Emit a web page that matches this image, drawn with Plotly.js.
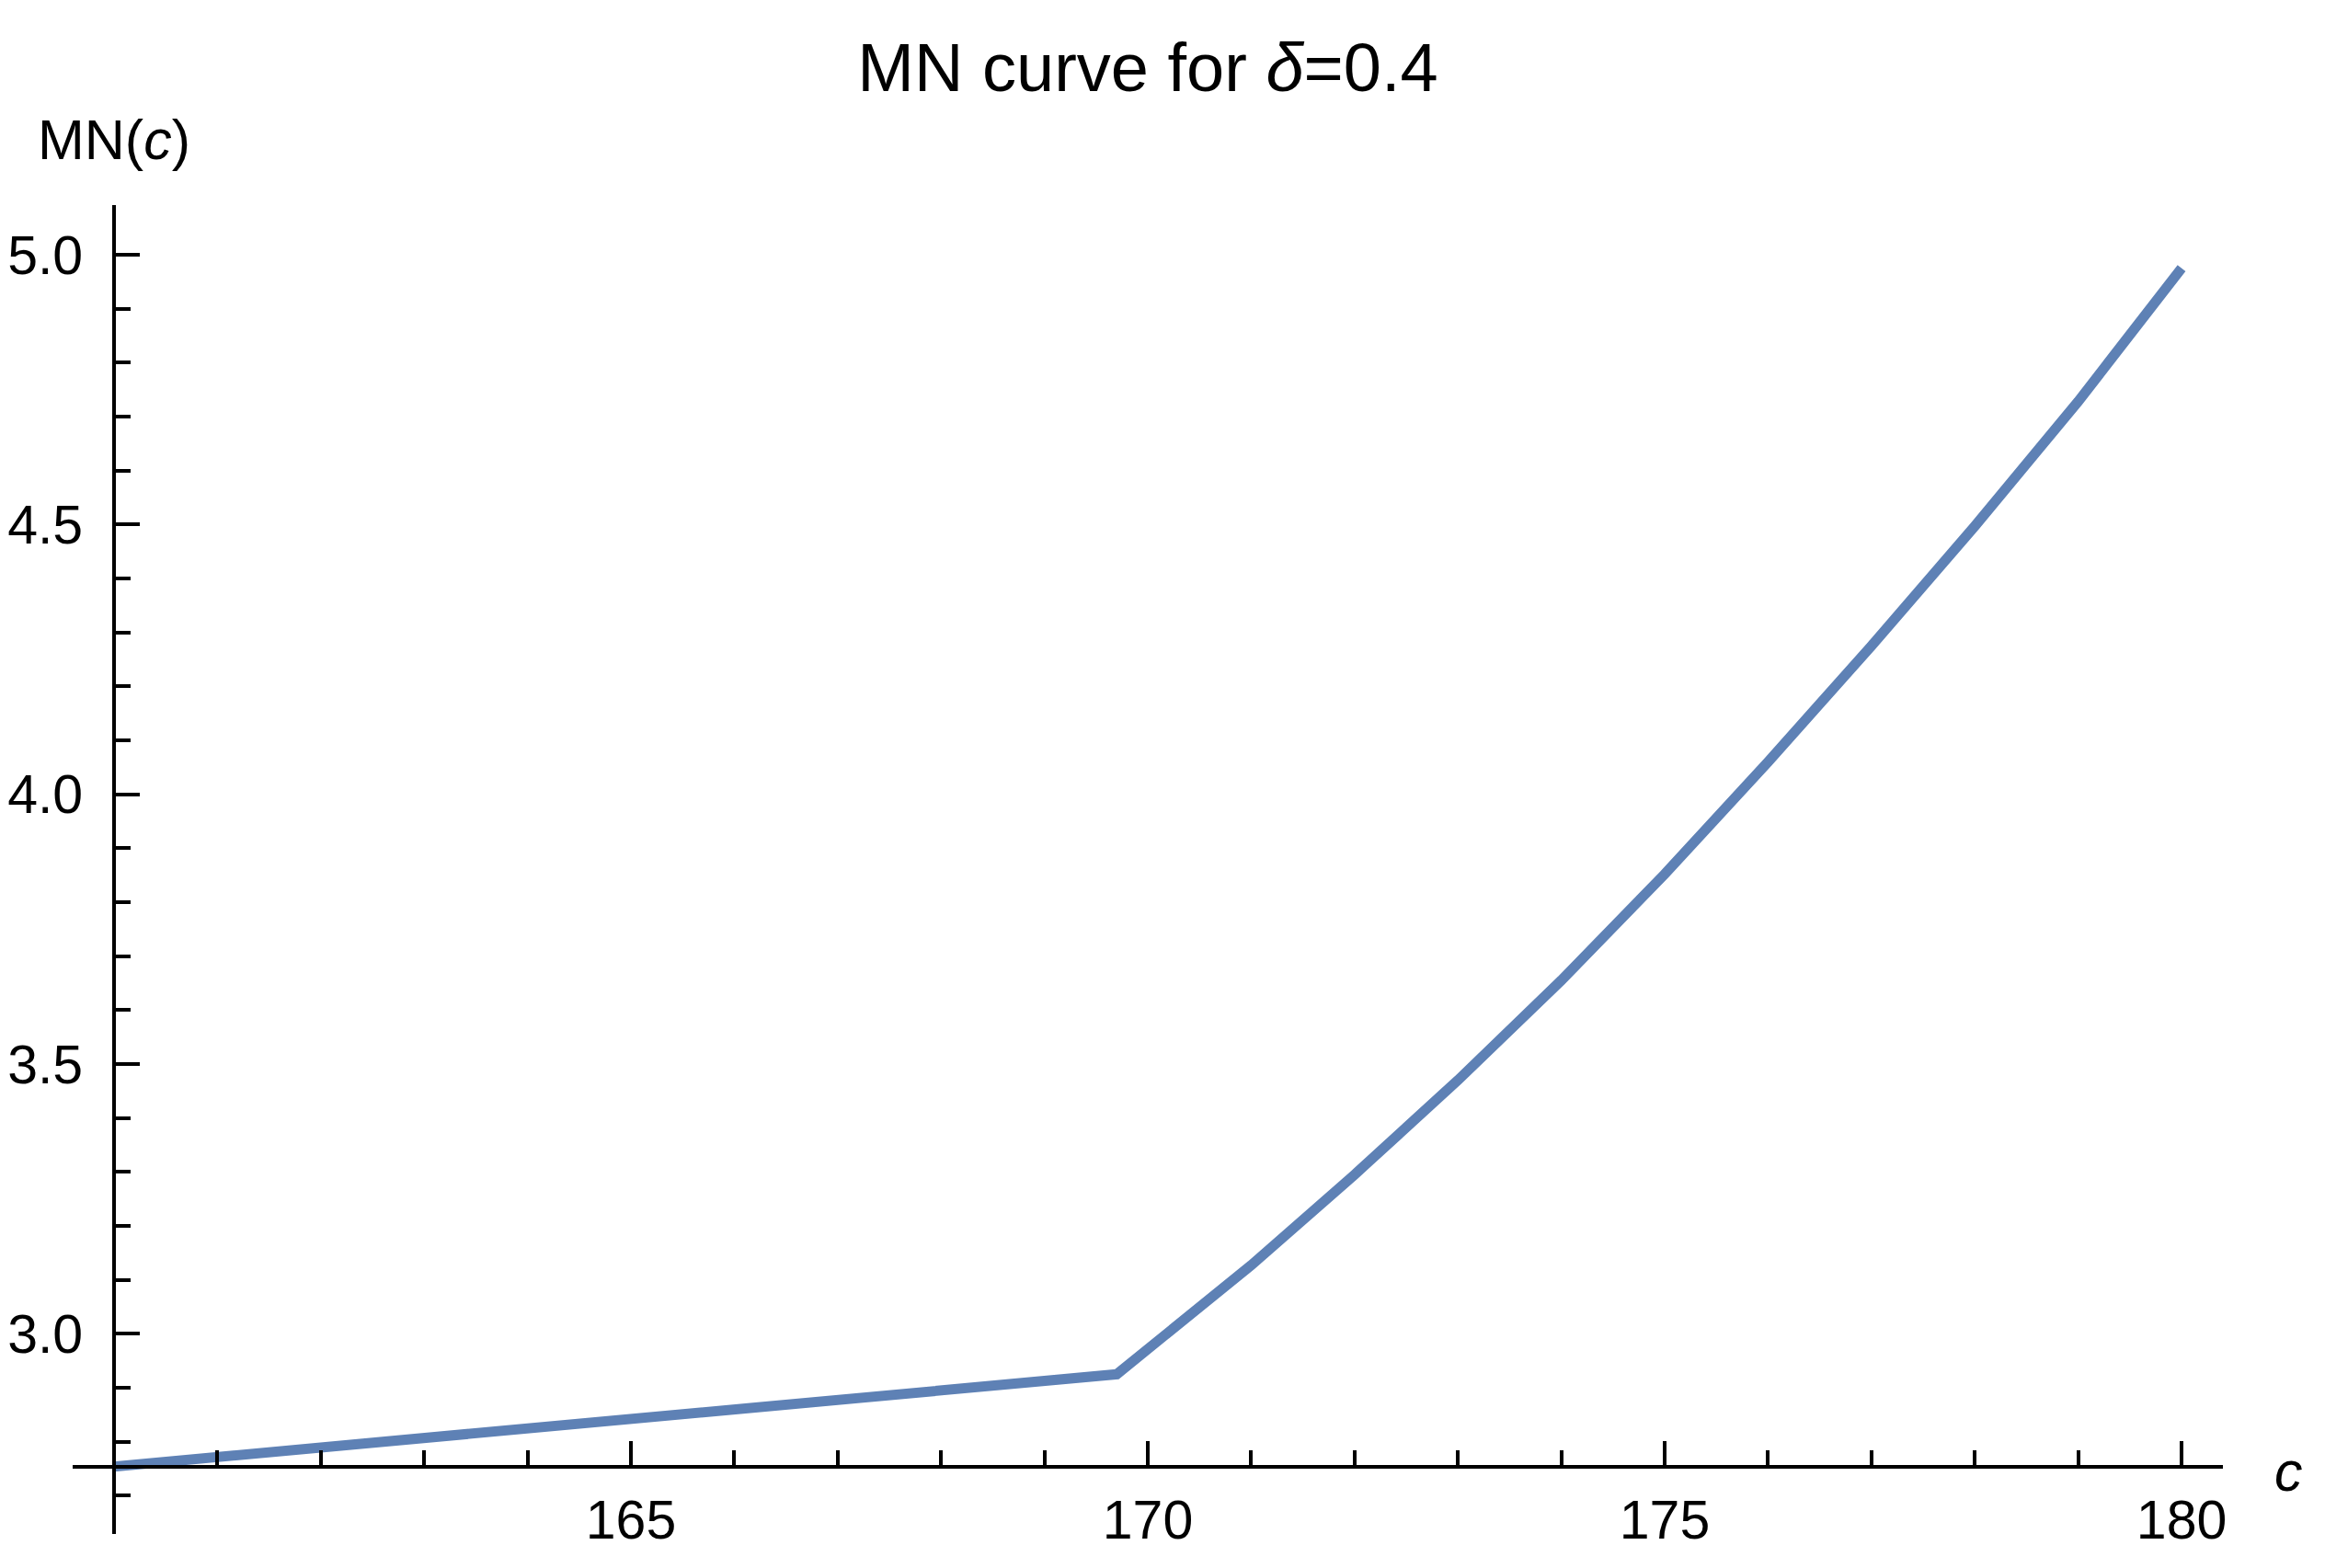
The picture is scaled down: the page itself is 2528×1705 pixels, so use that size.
<!DOCTYPE html>
<html>
<head>
<meta charset="utf-8">
<script src="https://cdn.plot.ly/plotly-3.0.1.min.js"></script>
<style>
  html, body { margin: 0; padding: 0; background: #ffffff; }
  #chart { width: 2528px; height: 1705px; }
</style>
</head>
<body>
<div id="chart"></div>
<script>
// ---- data ----
const cValues  = [160, 165, 169.7, 171, 172, 173, 174, 175, 176, 177, 178, 179, 180];
const mnValues = [2.754, 2.842, 2.925, 3.127, 3.295, 3.470, 3.655, 3.852, 4.060, 4.275, 4.497, 4.728, 4.975];

const xTickVals  = [165, 170, 175, 180];
const xTickText  = ['165', '170', '175', '180'];
const yTickVals  = [3.0, 3.5, 4.0, 4.5, 5.0];
const yTickText  = ['3.0', '3.5', '4.0', '4.5', '5.0'];

const titleText  = 'MN curve for <i>δ</i>=0.4';
const yLabelText = 'MN(<i>c</i>)';
const xLabelText = '<i>c</i>';

// ---- axes geometry (Mathematica style: axes cross at an origin) ----
const xRange = [159.6, 180.4];
const yRange = [2.629, 5.092];
const xOrigin = 160;
const yOrigin = 2.754;

const font = 'Liberation Sans, Arial, Helvetica, sans-serif';
const tickFontSize = 59;

const trace = {
  x: cValues,
  y: mnValues,
  type: 'scatter',
  mode: 'lines',
  line: { color: '#5E81B5', width: 11 },
  hoverinfo: 'skip'
};

const layout = {
  width: 2528,
  height: 1705,
  margin: { l: 79, r: 111, t: 223, b: 37, pad: 0 },
  paper_bgcolor: '#ffffff',
  plot_bgcolor: '#ffffff',
  showlegend: false,
  font: { family: font, color: '#000000', size: tickFontSize },
  title: {
    text: titleText,
    font: { family: font, size: 74, color: '#000000' },
    x: 0.5, xref: 'paper', xanchor: 'center',
    y: 1 - 73 / 1705, yref: 'container', yanchor: 'middle'
  },
  xaxis: {
    range: xRange,
    anchor: 'free',
    position: (yOrigin - yRange[0]) / (yRange[1] - yRange[0]),
    showline: true, linecolor: '#000000', linewidth: 4,
    showgrid: false, zeroline: false,
    ticks: 'inside', ticklen: 26, tickwidth: 4, tickcolor: '#000000',
    tickmode: 'array', tickvals: xTickVals, ticktext: xTickText,
    tickfont: { family: font, size: tickFontSize, color: '#000000' },
    ticklabelstandoff: 6,
    minor: { tickmode: 'linear', tick0: 160, dtick: 1, ticks: 'inside', ticklen: 16, tickwidth: 4, tickcolor: '#000000', showgrid: false },
    automargin: false,
    fixedrange: true
  },
  yaxis: {
    range: yRange,
    anchor: 'free',
    position: (xOrigin - xRange[0]) / (xRange[1] - xRange[0]),
    showline: true, linecolor: '#000000', linewidth: 4,
    showgrid: false, zeroline: false,
    ticks: 'inside', ticklen: 26, tickwidth: 4, tickcolor: '#000000',
    tickmode: 'array', tickvals: yTickVals, ticktext: yTickText,
    tickfont: { family: font, size: tickFontSize, color: '#000000' },
    ticklabelstandoff: 20,
    minor: { tickmode: 'linear', tick0: 0, dtick: 0.1, ticks: 'inside', ticklen: 16, tickwidth: 4, tickcolor: '#000000', showgrid: false },
    automargin: false,
    fixedrange: true
  },
  annotations: [
    {
      text: yLabelText, showarrow: false,
      xref: 'x', x: xOrigin, xanchor: 'center',
      yref: 'paper', y: 1, yanchor: 'middle', yshift: 71,
      font: { family: font, size: 61, color: '#000000' }
    },
    {
      text: xLabelText, showarrow: false,
      xref: 'paper', x: 1, xanchor: 'center', xshift: 71,
      yref: 'y', y: yOrigin, yanchor: 'middle', yshift: -5,
      font: { family: font, size: 61, color: '#000000' }
    }
  ]
};

Plotly.newPlot('chart', [trace], layout, { displayModeBar: false, staticPlot: true });
</script>
</body>
</html>
